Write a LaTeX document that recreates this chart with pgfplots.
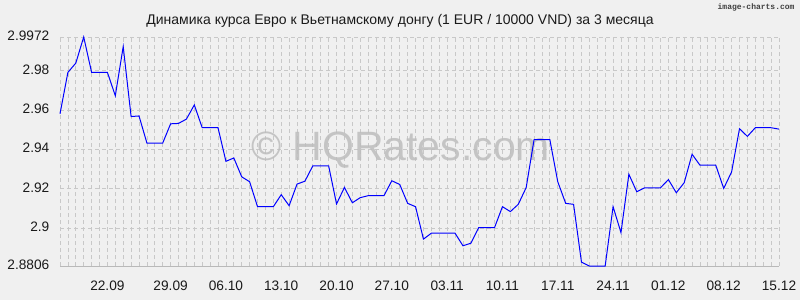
\documentclass[border=0pt]{standalone}
\usepackage{fontspec}
\setmainfont{Liberation Sans}
\newfontfamily\monofont{Liberation Mono}
\usepackage{pgfplots}
\pgfplotsset{compat=1.18}
\definecolor{bg}{HTML}{F0F0F0}
\definecolor{gridc}{HTML}{C8C8C8}
\definecolor{wm}{HTML}{BDBDBD}
\definecolor{txt}{HTML}{1A1A1A}
\begin{document}
\begin{tikzpicture}[x=1pt,y=1pt]
\fill[bg] (0,0) rectangle (800,300);
\node[anchor=base, font=\fontsize{14}{16}\selectfont, text=txt] at (400,275) {Динамика курса Евро к Вьетнамскому донгу (1 EUR / 10000 VND) за 3 месяца};
\node[anchor=base east, font=\monofont\bfseries\fontsize{8}{9}\selectfont, text=black!75] at (798,290) {image-charts.com};
\begin{axis}[
  at={(60pt,34pt)}, anchor=south west,
  scale only axis, width=719pt, height=229pt,
  xmin=0, xmax=91, ymin=2.8806, ymax=2.9972,
  clip=false,
  axis line style={draw=none},
  major tick length=0pt,
  xtick={0,...,91}, xticklabels={},
  xmajorgrids, ymajorgrids,
  grid style={draw=gridc, dash pattern=on 4pt off 3pt, line width=0.8pt},
  extra x ticks={6,14,21,28,35,42,49,56,63,70,77,84,91},
  extra x tick labels={22.09,29.09,06.10,13.10,20.10,27.10,03.11,10.11,17.11,24.11,01.12,08.12,15.12},
  extra x tick style={grid=none, major tick length=0pt,
    xticklabel style={anchor=base, yshift=-24pt, inner sep=0pt}},
  ytick={2.9,2.92,2.94,2.96,2.98,2.9972},
  yticklabels={2.9,2.92,2.94,2.96,2.98,2.9972},
  extra y ticks={2.8806},
  extra y tick labels={2.8806},
  extra y tick style={grid=major, major tick length=0pt,
    major grid style={solid, draw=gray!55, line width=1pt}},
  tick label style={font=\fontsize{13.7}{16}\selectfont, text=txt},
  yticklabel style={anchor=east, text height=0.72em, text depth=0pt, inner sep=0pt, xshift=-10.5pt},
]
\node[anchor=base, font=\fontsize{41}{48}\selectfont, text=wm, opacity=0.85] at (axis cs:43.1,2.9341) {© HQRates.com};
\addplot[blue, line width=1pt, mark=none] coordinates {
(0,2.9581) (1,2.9792) (2,2.9839) (3,2.9972) (4,2.9792) (5,2.9792) (6,2.9792) (7,2.9673)
(8,2.9923) (9,2.9567) (10,2.9570) (11,2.9432) (12,2.9432) (13,2.9432) (14,2.9530) (15,2.9532)
(16,2.9554) (17,2.9626) (18,2.9510) (19,2.9510) (20,2.9510) (21,2.9339) (22,2.9356) (23,2.9260)
(24,2.9235) (25,2.9108) (26,2.9108) (27,2.9108) (28,2.9169) (29,2.9113) (30,2.9223) (31,2.9238)
(32,2.9316) (33,2.9316) (34,2.9316) (35,2.9122) (36,2.9206) (37,2.9128) (38,2.9154) (39,2.9164)
(40,2.9164) (41,2.9164) (42,2.9240) (43,2.9221) (44,2.9125) (45,2.9108) (46,2.8943) (47,2.8973)
(48,2.8973) (49,2.8973) (50,2.8973) (51,2.8909) (52,2.8922) (53,2.9002) (54,2.9002) (55,2.9002)
(56,2.9108) (57,2.9083) (58,2.9120) (59,2.9205) (60,2.9449) (61,2.9449) (62,2.9449) (63,2.9235)
(64,2.9125) (65,2.9120) (66,2.8826) (67,2.8806) (68,2.8806) (69,2.8806) (70,2.9108) (71,2.8976)
(72,2.9273) (73,2.9184) (74,2.9204) (75,2.9204) (76,2.9204) (77,2.9246) (78,2.9179) (79,2.9230)
(80,2.9375) (81,2.9319) (82,2.9319) (83,2.9319) (84,2.9201) (85,2.9285) (86,2.9505) (87,2.9466)
(88,2.9510) (89,2.9510) (90,2.9510) (91,2.9503)
};
\end{axis}
\end{tikzpicture}
\end{document}
